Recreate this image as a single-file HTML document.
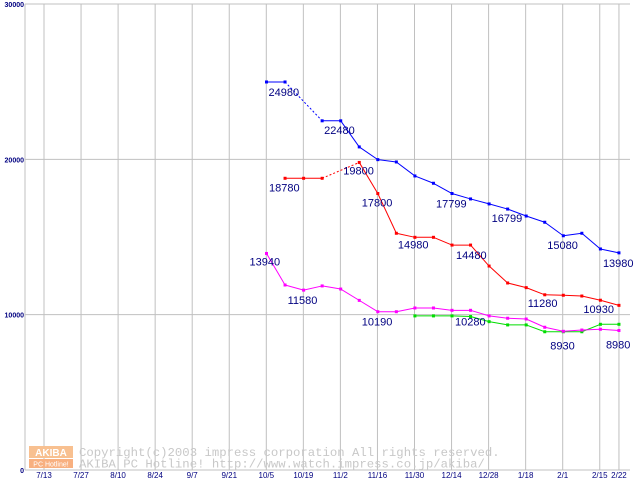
<!DOCTYPE html>
<html><head><meta charset="utf-8"><style>
html,body{margin:0;padding:0;background:#fff;width:640px;height:480px;overflow:hidden}
svg{display:block}
</style></head><body>
<svg id="chart" width="640" height="480" xmlns="http://www.w3.org/2000/svg" font-family="Liberation Sans, sans-serif">
<g id="grid"></g>
<g id="watermark">
  <rect x="29" y="446" width="44" height="12" fill="#f8c090"/>
  <text x="51" y="456" font-size="10" fill="#fff" text-anchor="middle" font-weight="bold">AKIBA</text>
  <rect x="29" y="459" width="44" height="9" fill="#f8b080"/>
  <text x="51" y="466.5" font-size="7" fill="#fff" text-anchor="middle">PC Hotline!</text>
  <text x="79" y="456" font-size="12.3" fill="#c8c8c8" font-family="Liberation Mono, monospace">Copyright(c)2003 impress corporation All rights reserved.</text>
  <text x="79" y="467.5" font-size="12.3" fill="#c8c8c8" font-family="Liberation Mono, monospace">AKIBA PC Hotline!  http://www.watch.impress.co.jp/akiba/</text>
</g>
<g id="series"></g>
<g id="labels"></g>
</svg>
<script>
const xTickLabels = ["7/13","7/27","8/10","8/24","9/7","9/21","10/5","10/19","11/2","11/16","11/30","12/14","12/28","1/18","2/1","2/15","2/22"];
const yTicks = [0,10000,20000,30000];
const seriesBlue = [24980,24980,null,22480,22480,20800,19980,19830,18930,18460,17799,17450,17130,16799,16350,15950,15080,15240,14230,13980];
const seriesRed = [null,18780,18780,18780,null,19800,17800,15240,14980,14980,14480,14480,13130,12040,11740,11280,11250,11200,10930,10600];
const seriesMagenta = [13940,11910,11580,11850,11650,10920,10190,10190,10430,10430,10280,10280,9920,9770,9720,9190,8930,9010,9060,8980];
const seriesGreen = [null,null,null,null,null,null,null,null,9920,9920,9920,9880,9550,9340,9340,8900,8900,8900,9380,9380];
const labelSeries = ["b","b","r","r","r","r","r","b","b","b","b","m","m","m","m","r","r","m","m"];
const labelIndex = [0,3,5,1,6,8,10,10,13,16,19,0,2,6,10,15,18,16,19];
const labelText = ["24980","22480","19800","18780","17800","14980","14480","17799","16799","15080","13980","13940","11580","10190","10280","11280","10930","8930","8980"];
const labelDx = [2,2,-16,-16,-16,-17,4,-16,-16,-16,-16,-17,-16,-16,3,-17,-17,-13,-13];
const labelDy = [14,13,12,13,13,11,14,14,13,13,14,12,14,14,15,12,13,18,18];

const NS="http://www.w3.org/2000/svg";
const X0=25,X1=630,YTOP=4,YBOT=470,YMAX=30000;
const yScale=v=>YBOT-(v/YMAX)*(YBOT-YTOP);
const tickX=k=>44+37.05*k;
const ptX=i=>266.5+18.55*i;
function mk(tag,parent){const e=document.createElementNS(NS,tag);parent.appendChild(e);return e;}
const grid=document.getElementById('grid');
const series=document.getElementById('series');
const labels=document.getElementById('labels');

yTicks.forEach((v,i)=>{
  const y=yScale(v);
  const l=mk('line',grid);
  
  
  l.setAttribute('x1',X0);l.setAttribute('x2',X1);l.setAttribute('y1',y);l.setAttribute('y2',y);
  l.setAttribute('stroke','#c0c0c0');l.setAttribute('stroke-width','1');
  const t=mk('text',grid);
  
  
  t.setAttribute('x',24);t.setAttribute('y',y+3);t.setAttribute('text-anchor','end');
  t.setAttribute('font-size','7');t.setAttribute('fill','#000080');t.setAttribute('font-weight','bold');
  t.textContent=String(v);
});
const ax=mk('line',grid);


ax.setAttribute('x1',X0);ax.setAttribute('x2',X0);ax.setAttribute('y1',YTOP);ax.setAttribute('y2',YBOT);
ax.setAttribute('stroke','#c0c0c0');
xTickLabels.forEach((s,k)=>{
  const x=(k===xTickLabels.length-1)?ptX(19):tickX(k);
  const l=mk('line',grid);
  
  
  l.setAttribute('x1',x);l.setAttribute('x2',x);l.setAttribute('y1',YTOP);l.setAttribute('y2',YBOT);
  l.setAttribute('stroke','#c0c0c0');
  const t=mk('text',grid);
  
  
  t.setAttribute('x',x);t.setAttribute('y',478);t.setAttribute('text-anchor','middle');
  t.setAttribute('font-size','8');t.setAttribute('fill','#000080');
  t.textContent=s;
});

function drawSeries(vals,color,name){
  const g=mk('g',series);
  
  
  let prev=-1;
  vals.forEach((v,i)=>{
    if(v===null)return;
    if(prev>=0){
      const l=mk('line',g);
      
      
      l.setAttribute('x1',ptX(prev));l.setAttribute('y1',yScale(vals[prev]));
      l.setAttribute('x2',ptX(i));l.setAttribute('y2',yScale(v));
      l.setAttribute('stroke',color);l.setAttribute('stroke-width','1');
      if(i-prev>1)l.setAttribute('stroke-dasharray','2,2');
    }
    prev=i;
  });
  vals.forEach((v,i)=>{
    if(v===null)return;
    const r=mk('rect',g);
    
    
    r.setAttribute('x',ptX(i)-1.5);r.setAttribute('y',yScale(v)-1.5);
    r.setAttribute('width',3);r.setAttribute('height',3);r.setAttribute('fill',color);
  });
}
drawSeries(seriesGreen,'#00dd00','series-green');
drawSeries(seriesMagenta,'#ff00ff','series-magenta');
drawSeries(seriesRed,'#ff0000','series-red');
drawSeries(seriesBlue,'#0000ff','series-blue');

const lookup={b:seriesBlue,r:seriesRed,m:seriesMagenta};
labelText.forEach((s,j)=>{
  const arr=lookup[labelSeries[j]];const i=labelIndex[j];
  const t=mk('text',labels);
  
  
  t.setAttribute('x',ptX(i)+labelDx[j]);t.setAttribute('y',yScale(arr[i])+labelDy[j]);
  t.setAttribute('font-size','11');t.setAttribute('fill','#000080');
  t.textContent=s;
});
</script>
</body></html>
